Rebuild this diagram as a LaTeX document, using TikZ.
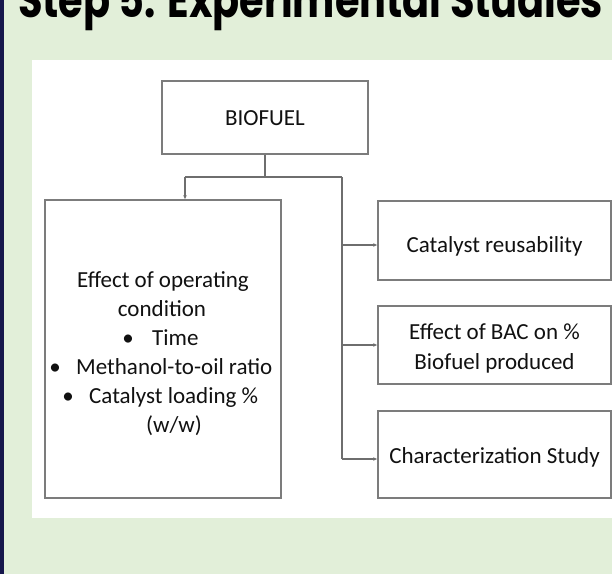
\documentclass[tikz,border=0pt]{standalone}
\usepackage{fontspec}
\setmainfont{Carlito}
\newfontfamily\titlefont{Poppins}
\usetikzlibrary{arrows.meta}
\definecolor{bggreen}{HTML}{E2EFD9}
\definecolor{navybar}{HTML}{16174C}
\definecolor{boxgray}{HTML}{7C7C7C}
\definecolor{linegray}{HTML}{6E6E6E}
\definecolor{txtgray}{HTML}{111111}
\tikzset{
  box/.style={draw=boxgray, line width=1.8pt, fill=white, inner sep=0pt},
  txt/.style={anchor=base, inner sep=0pt, text=txtgray, font=\fontsize{23}{29}\selectfont},
  txtw/.style={txt, anchor=base west},
  conn/.style={draw=linegray, line width=1.4pt},
  arr/.style={conn, -{Stealth[length=4pt,width=3.5pt]}}
}
\newcommand{\bul}[1]{\llap{\makebox[#1]{\textbullet}}}
\begin{document}
\begin{tikzpicture}[x=1pt,y=-1pt]
\useasboundingbox (0,0) rectangle (612,574);
\fill[bggreen] (0,0) rectangle (612,574);
\fill[navybar] (0,0) rectangle (3.5,574);
\begin{scope}
\clip (0,0) rectangle (612,574);
\node[anchor=base west, inner sep=0pt] (title) at (18,17.5)
  {\resizebox{585pt}{40pt}{\titlefont\bfseries Step 5: Experimental Studies}};
\end{scope}
\fill[white] (32,60) rectangle (612,518);
% boxes
\node[box, minimum width=206pt, minimum height=73pt] (bio) at (265,117.5) {};
\node[box, minimum width=236pt, minimum height=298pt] (cond) at (163,349) {};
\node[box, minimum width=233pt, minimum height=79pt] (reuse) at (494.5,240.5) {};
\node[box, minimum width=233pt, minimum height=78pt] (bac) at (494.5,345) {};
\node[box, minimum width=233pt, minimum height=87pt] (char) at (494.5,454.5) {};
% texts
\node[txt] (tbio) at (265,125) {BIOFUEL};
\node[txt] (t1) at (163,287) {Effect of operating};
\node[txt] (t2) at (162,316) {condition};
\node[txtw] (t3) at (152,345) {\bul{48pt}Time};
\node[txtw] (t4) at (76,374) {\bul{42pt}Methanol-to-oil ratio};
\node[txtw] (t5) at (89,403) {\bul{42pt}Catalyst loading \%};
\node[txt] (t6) at (174,432) {(w/w)};
\node[txt] (treuse) at (494.5,252) {Catalyst reusability};
\node[txt] (tbac1) at (494.5,339) {Effect of BAC on \%};
\node[txt] (tbac2) at (494.5,369) {Biofuel produced};
\node[txt] (tchar) at (494.5,463) {Characterization Study};
% connectors
\coordinate (jm) at (265,177);
\coordinate (jl) at (185,177);
\coordinate (jr) at (342,177);
\coordinate (b1) at (342,245);
\coordinate (b2) at (342,345);
\coordinate (b3) at (342,459);
\draw[conn] (bio.south) -- (jm);
\draw[conn] (jl) -- (jr);
\draw[arr] (jl) -- (jl |- cond.north);
\draw[conn] (jr) -- (b3);
\draw[arr] (b1) -- (b1 -| reuse.west);
\draw[arr] (b2) -- (b2 -| bac.west);
\draw[arr] (b3) -- (b3 -| char.west);
\end{tikzpicture}
\end{document}
